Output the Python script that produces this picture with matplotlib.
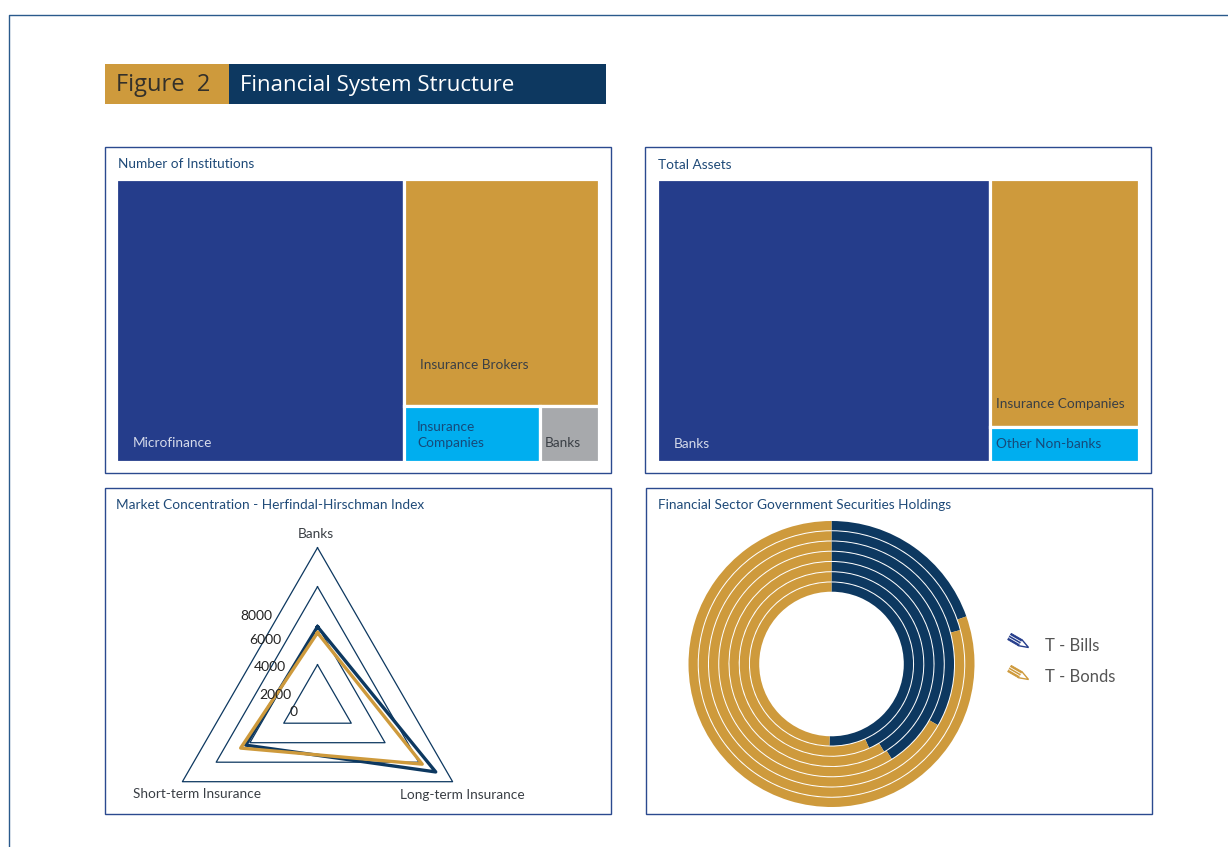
"""
Financial system structure panel: two treemaps, a radar and a nested donut.
"""
import matplotlib
matplotlib.use("Agg")
import matplotlib.pyplot as plt
import numpy as np
from matplotlib.patches import Polygon, Rectangle
from matplotlib.transforms import Affine2D

W, H = 1228, 847

NAVY = "#0D3860"
BLUE = "#253D8B"
GOLD = "#CE9A3C"
CYAN = "#00AEEF"
GREY = "#A7A9AC"
EDGE = "#2B4A8F"
HEAD = "#1F4A78"

# treemap shares (percent)
inst_names = ["Microfinance", "Insurance Brokers", "Insurance Companies", "Banks"]
inst_values = [59.8, 32.2, 5.6, 2.4]
inst_colors = [BLUE, GOLD, CYAN, GREY]

asset_names = ["Banks", "Insurance Companies", "Other Non-banks"]
asset_values = [69.2, 26.95, 3.85]
asset_colors = [BLUE, GOLD, CYAN]

# Herfindal-Hirschman index by sector
hhi_sectors = ["Banks", "Long-term Insurance", "Short-term Insurance"]
hhi_ticks = [2000, 4000, 6000, 8000]
hhi_navy = [3950, 7000, 4250]
hhi_gold = [3640, 6200, 4550]

# T-Bill share of holdings, outer ring first (percent)
tbill_share = [19.6, 20.9, 33.3, 41.0, 41.4, 43.3, 50.4]

plt.rcParams["font.family"] = ["Lato", "DejaVu Sans"]


def px_axes(x0, y0, x1, y1, **kw):
    # axes from pixel corners, y measured from the top
    return fig.add_axes([x0 / W, 1 - y1 / H, (x1 - x0) / W, (y1 - y0) / H], **kw)


def treemap(ax, values, colors):
    # slice and dice: each value cuts its piece off what is left, turning 90 deg each time
    x, y, w, h = 0.0, 0.0, 1.0, 1.0
    left = float(sum(values))
    vertical = True
    for i, (v, c) in enumerate(zip(values, colors)):
        frac = v / left
        if vertical:
            ax.bar(x, h, w * frac, y, align="edge", color=c, edgecolor="white", linewidth=2.3)
            x += w * frac
            w *= 1 - frac
        else:
            ax.bar(x, h * frac, w, y, align="edge", color=c, edgecolor="white", linewidth=2.3)
            y += h * frac
            h *= 1 - frac
        left -= v
        vertical = not vertical
    ax.set_xlim(0, 1)
    ax.set_ylim(1, 0)
    ax.axis("off")


def pencil(ax, cx, cy, color):
    # small pencil used as legend key
    tr = Affine2D().rotate_deg(30).translate(cx, cy) + ax.transData
    ax.add_patch(Polygon([(-11, -3.6), (1, -3.6), (1, 3.6), (-11, 3.6)], closed=True,
                         facecolor=color, edgecolor=color, linewidth=0.6, transform=tr))
    ax.add_patch(Polygon([(1, -3.6), (11, 0), (1, 3.6)], closed=True,
                         facecolor="white", edgecolor=color, linewidth=1.0, transform=tr))
    for v in (-1.2, 1.2):
        ax.plot([-11, 1], [v, v], color="white", linewidth=0.6, transform=tr)


fig = plt.figure(figsize=(W / 100, H / 100), dpi=100, facecolor="white")

# page layer in pixel coordinates
page = px_axes(0, 0, W, H, zorder=0)
page.set_xlim(0, W)
page.set_ylim(H, 0)
page.axis("off")

page.plot([8.5, 8.5, W], [H, 15, 15], color="#2A5A8C", linewidth=1.0)
page.add_patch(Rectangle((105, 64.5), 124, 39.5, facecolor=GOLD, edgecolor="none"))
page.add_patch(Rectangle((229, 64.5), 377, 39.5, facecolor=NAVY, edgecolor="none"))
page.text(116, 85, "Figure  2", fontsize=17, color="#33302A", va="center", family="Open Sans")
page.text(240, 85, "Financial System Structure", fontsize=16, color="white", va="center",
          family="Open Sans")

for x0, y0, x1, y1 in [(104.5, 147.5, 610.5, 473.5), (644.5, 147.5, 1150.5, 473.5),
                       (104.5, 488.5, 610.5, 814.5), (645.5, 488.5, 1151.5, 814.5)]:
    page.add_patch(Rectangle((x0, y0), x1 - x0, y1 - y0, facecolor="none",
                             edgecolor=EDGE, linewidth=1.0))

page.text(118, 164, "Number of Institutions", fontsize=9.8, color=HEAD, va="center")
page.text(658, 165, "Total Assets", fontsize=9.8, color=HEAD, va="center")
page.text(116, 505, "Market Concentration - Herfindal-Hirschman Index", fontsize=9.8,
          color=HEAD, va="center")
page.text(658, 505, "Financial Sector Government Securities Holdings", fontsize=9.8,
          color=HEAD, va="center")

# treemaps
ax_inst = px_axes(115.5, 178.5, 598.5, 462.5)
treemap(ax_inst, inst_values, inst_colors)
ax_assets = px_axes(656.5, 178.5, 1138.5, 462.5)
treemap(ax_assets, asset_values, asset_colors)

# radar, clockwise from the top
ax_radar = px_axes(161.5, 547.7, 473.5, 859.7, projection="polar")
ax_radar.set_theta_zero_location("N")
ax_radar.set_theta_direction(-1)
theta = np.deg2rad([0, 120, 240, 360])
for t in hhi_ticks:
    ax_radar.plot(theta, [t] * 4, color=NAVY, linewidth=0.9, clip_on=False)
ax_radar.plot(theta, hhi_navy + hhi_navy[:1], color=NAVY, linewidth=2.4, clip_on=False)
ax_radar.plot(theta, hhi_gold + hhi_gold[:1], color=GOLD, linewidth=2.4, clip_on=False)
ax_radar.set_ylim(0, 8000)
ax_radar.axis("off")
ax_radar.patch.set_visible(False)

# nested donut, rings pitched evenly between the two radii
ax_donut = px_axes(831.5 - 143, 664 - 143, 831.5 + 143, 664 + 143)
outer, inner = 1.0, 71.3 / 143
pitch = (outer - inner) / len(tbill_share)
for i, share in enumerate(tbill_share):
    ax_donut.pie([share, 100 - share], colors=[NAVY, GOLD], radius=outer - i * pitch,
                 startangle=90, counterclock=False,
                 wedgeprops={"width": pitch - 1.0 / 143, "linewidth": 0})
ax_donut.set_xlim(-1, 1)
ax_donut.set_ylim(-1, 1)

# text and legend layer on top
top = px_axes(0, 0, W, H, zorder=5)
top.set_xlim(0, W)
top.set_ylim(H, 0)
top.axis("off")
top.patch.set_visible(False)

DARK = "#3A3F45"
ON_BLUE = "#D5DAEA"
top.text(133, 443, inst_names[0], fontsize=9.8, color=ON_BLUE, va="center")
top.text(420, 365, inst_names[1], fontsize=9.8, color=DARK, va="center")
top.text(417, 427, "Insurance", fontsize=9.8, color="#164A7A", va="center")
top.text(417, 443, "Companies", fontsize=9.8, color="#164A7A", va="center")
top.text(545, 443, inst_names[3], fontsize=9.8, color=DARK, va="center")
top.text(674, 444, asset_names[0], fontsize=9.8, color=ON_BLUE, va="center")
top.text(996, 404, asset_names[1], fontsize=9.8, color=DARK, va="center")
top.text(996, 444, asset_names[2], fontsize=9.8, color="#164A7A", va="center")

top.text(316, 534, hhi_sectors[0], fontsize=9.8, color=DARK, va="center", ha="center")
top.text(462, 795, hhi_sectors[1], fontsize=9.8, color=DARK, va="center", ha="center")
top.text(197, 794, hhi_sectors[2], fontsize=9.8, color=DARK, va="center", ha="center")

for label, xr, yc in [("8000", 272, 616), ("6000", 281.5, 640), ("4000", 286, 667),
                      ("2000", 291, 695), ("0", 298, 712)]:
    top.text(xr, yc, label, fontsize=10, color="#222222", va="center", ha="right")

pencil(top, 1019, 642, BLUE)
pencil(top, 1019, 674, GOLD)
top.text(1045, 646, "T - Bills", fontsize=12, color="#555555", va="center")
top.text(1045, 677, "T - Bonds", fontsize=12, color="#555555", va="center")

fig.savefig("out.png", dpi=100)
